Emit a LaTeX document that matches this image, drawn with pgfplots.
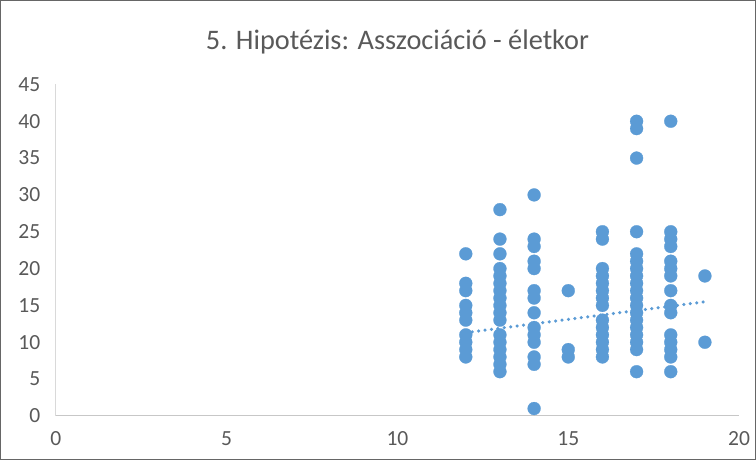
\documentclass[border=0pt]{standalone}
\usepackage{pgfplots}
\pgfplotsset{compat=1.18}
\usepackage{fontspec}
\setmainfont{Carlito}
\definecolor{dotblue}{HTML}{5B9BD5}
\definecolor{txtgray}{HTML}{595959}
\definecolor{axgray}{HTML}{D9D9D9}

\begin{document}
\begin{tikzpicture}
\begin{axis}[
scale only axis,
width=507pt, height=246pt,
xmin=0, xmax=20, ymin=0, ymax=45,
xtick={0,5,...,20}, ytick={0,5,...,45},
axis x line=bottom, axis y line=left,
axis line style={draw=axgray, line width=0.8pt, -},
x axis line style={draw=black!22},
major tick length=0pt,
tick label style={font=\fontsize{16}{18}\selectfont, text=txtgray},
xticklabel style={yshift=-8pt},
yticklabel style={xshift=-8pt},
/pgf/number format/assume math mode=true,
clip=false,
]
\draw[black!60, line width=0.8pt] (rel axis cs:-0.081,-0.131) rectangle (rel axis cs:1.024,1.253);
\node[font=\fontsize{21}{25}\selectfont, text=txtgray] at (rel axis cs:0.5,1.128) {5. Hipotézis: Asszociáció - életkor};
\addplot[only marks, color=dotblue, mark=*, mark size=4.8pt, mark options={draw=dotblue, fill=dotblue, line width=0.2pt}] coordinates {
(12,22) (12,18) (12,17) (12,15) (12,14) (12,13) (12,11) (12,10) (12,9) (12,8)
(13,28) (13,24) (13,22) (13,20) (13,19) (13,18) (13,17) (13,16) (13,15) (13,14) (13,13) (13,11) (13,10) (13,9) (13,8) (13,7) (13,6)
(14,30) (14,24) (14,23) (14,21) (14,20) (14,17) (14,16) (14,14) (14,12) (14,11) (14,10) (14,8) (14,7) (14,1)
(15,17) (15,9) (15,8)
(16,25) (16,24) (16,20) (16,19) (16,18) (16,17) (16,16) (16,15) (16,13) (16,12) (16,11) (16,10) (16,9) (16,8)
(17,40) (17,39) (17,35) (17,25) (17,22) (17,21) (17,20) (17,19) (17,18) (17,17) (17,16) (17,15) (17,14) (17,13) (17,12) (17,11) (17,10) (17,9) (17,6)
(18,40) (18,25) (18,24) (18,23) (18,21) (18,20) (18,19) (18,17) (18,15) (18,14) (18,11) (18,10) (18,9) (18,8) (18,6)
(19,19) (19,10)
};
\addplot[dotblue, line width=2.6pt, line cap=round, dash pattern=on 0pt off 4.8pt] coordinates {(12,11.3) (19,15.5)};
\end{axis}
\end{tikzpicture}
\end{document}
